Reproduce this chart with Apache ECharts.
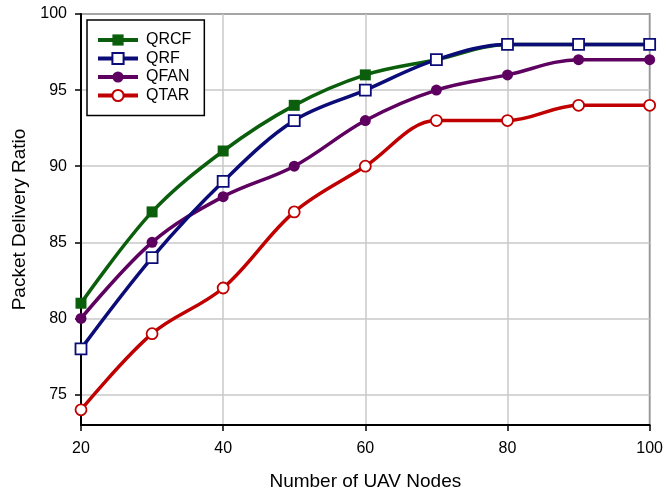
<!DOCTYPE html>
<html>
<head>
<meta charset="utf-8">
<script src="https://cdn.jsdelivr.net/npm/echarts@6/dist/echarts.min.js"></script>
<style>
  html, body { margin: 0; padding: 0; background: #fff; }
  #chart { width: 666px; height: 496px; }
</style>
</head>
<body>
<div id="chart"></div>
<script>
// Number of UAV nodes
const nodes = [20, 30, 40, 50, 60, 70, 80, 90, 100];
// Packet delivery ratio per protocol
const qrcf = [81, 87, 91, 94, 96, 97, 98, 98, 98];
const qrf  = [78, 84, 89, 93, 95, 97, 98, 98, 98];
const qfan = [80, 85, 88, 90, 93, 95, 96, 97, 97];
const qtar = [74, 79, 82, 87, 90, 93, 93, 94, 94];
const yTicks = [75, 80, 85, 90, 95, 100];

const font = 'Liberation Sans, Arial, sans-serif';

function pairs(ys) { return nodes.map((x, i) => [x, ys[i]]); }

function line(name, ys, color, symbol) {
  const hollow = symbol.startsWith('empty');
  return {
    name: name,
    type: 'line',
    data: pairs(ys),
    smooth: 0.35,
    symbol: hollow ? symbol.replace('empty', '').toLowerCase() : symbol,
    symbolSize: 11,
    lineStyle: { color: color, width: 3.5 },
    itemStyle: { color: hollow ? '#fff' : color, borderColor: color, borderWidth: hollow ? 1.8 : 0 },
    emphasis: { disabled: true }
  };
}

const chart = echarts.init(document.getElementById('chart'), null, { renderer: 'canvas' });
chart.setOption({
  animation: false,
  backgroundColor: '#fff',
  grid: { left: 81, right: 14, top: 14, bottom: 71, show: true, borderColor: '#000', borderWidth: 1.5, backgroundColor: 'transparent' },
  legend: {
    left: 87, top: 20, orient: 'vertical',
    padding: [12, 13, 12, 9],
    borderColor: '#000', borderWidth: 1.5,
    backgroundColor: '#fff',
    itemWidth: 40, itemHeight: 14, itemGap: 2.5,
    lineStyle: { width: 4 },
    textStyle: { fontFamily: font, fontSize: 16, color: '#000', padding: [0, 0, 0, 3] },
    data: ['QRCF', 'QRF', 'QFAN', 'QTAR']
  },
  xAxis: {
    type: 'value', min: 20, max: 100, interval: 20,
    name: 'Number of UAV Nodes', nameLocation: 'middle', nameGap: 47,
    nameTextStyle: { fontFamily: font, fontSize: 19, color: '#000' },
    axisLine: { lineStyle: { color: '#000', width: 2 } },
    axisTick: { show: true, length: 6, lineStyle: { color: '#000', width: 1.5 } },
    axisLabel: { fontFamily: font, fontSize: 16, color: '#000', margin: 16 },
    splitLine: { show: true, lineStyle: { color: '#c8c8c8', width: 1.5 } }
  },
  yAxis: {
    type: 'value', min: 73, max: 100,
    name: 'Packet Delivery Ratio', nameLocation: 'middle', nameGap: 52,
    nameTextStyle: { fontFamily: font, fontSize: 19, color: '#000' },
    axisLine: { show: true, lineStyle: { color: '#000', width: 2 } },
    axisTick: { show: true, length: 6, customValues: yTicks, lineStyle: { color: '#000', width: 1.5 } },
    axisLabel: { fontFamily: font, fontSize: 16, color: '#000', margin: 14, customValues: yTicks },
    splitLine: { show: true, lineStyle: { color: '#c8c8c8', width: 1.5 } }
  },
  series: [
    line('QRCF', qrcf, '#0b5e0b', 'rect'),
    line('QFAN', qfan, '#5e0060', 'circle'),
    line('QRF', qrf, '#0c0c78', 'emptyRect'),
    line('QTAR', qtar, '#c00000', 'emptyCircle')
  ]
});
</script>
</body>
</html>
